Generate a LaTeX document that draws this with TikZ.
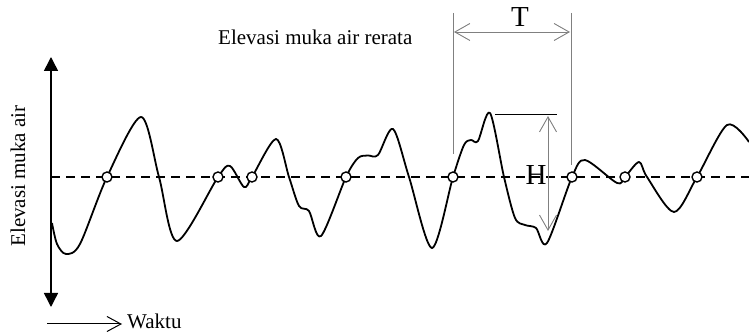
\documentclass[tikz,border=0pt]{standalone}
\usepackage{fontspec}
\setmainfont{Liberation Serif}
\usetikzlibrary{arrows.meta}
\tikzset{
  wave/.style={line width=1.8pt, line join=round},
  meanline/.style={line width=1.5pt, dash pattern=on 9pt off 6pt},
  axisline/.style={line width=1.5pt, -{Triangle[length=14pt,width=14pt]}},
  zc/.style={circle, draw, fill=white, line width=1.4pt, minimum size=10pt, inner sep=0pt},
  dimline/.style={line width=0.9pt, draw=gray},
  dimarrow/.style={line width=0.9pt, draw=gray, {Straight Barb[length=15pt,width=17pt]}-{Straight Barb[length=15pt,width=17pt]}},
  txt/.style={font=\fontsize{21}{25}\selectfont, inner sep=0pt},
  bigtxt/.style={font=\fontsize{29}{34}\selectfont, inner sep=0pt}
}
\begin{document}
\begin{tikzpicture}[x=1pt,y=-1pt]
\useasboundingbox (0,0) rectangle (749,336);
% mean line
\coordinate (mL) at (51,177);
\coordinate (mR) at (749,177);
\draw[meanline] (mL) -- (mR);
% axis
\coordinate (ax0) at (51,177);
\coordinate (axT) at (51,57);
\coordinate (axB) at (51,307);
\draw[axisline] (ax0) -- (axT);
\draw[axisline] (ax0) -- (axB);
% wave
\draw[wave] plot[smooth, tension=0.5] coordinates {
 (52,223) (57,244) (66,254) (80,244) (107,177) (141,117) (159,177) (177,241) (218,177) (230,166) (244,187) (252,177) (276,139) (289,177) (299,206) (309,211) (321,236) (346,177) (358,158) (368,155.5) (378,155) (393,129) (409,177) (432,248) (453,177) (464,145) (471,140) (478,141) (490,113) (504,177) (515,218) (525,225) (536,228) (547,243) (572,177) (585,160) (617,183) (625,177) (639,162) (647,177) (674,212) (697,177) (727,125) (749,142)
};
% zero crossings
\foreach \n/\x in {1/107,2/218,3/252,4/346,5/453,6/572,7/625,8/697}
  \node[zc] (z\n) at (\x,177) {};
% T dimension
\coordinate (tl1) at (453,13);
\coordinate (tl2) at (453,154);
\coordinate (tr1) at (571,13);
\coordinate (tr2) at (571,165);
\draw[dimline] (tl1) -- (tl2);
\draw[dimline] (tr1) -- (tr2);
\coordinate (ta) at (454,32);
\coordinate (tb) at (570,32);
\draw[dimarrow] (ta) -- (tb);
\node[bigtxt, anchor=base] (T) at (520,27) {T};
% H dimension
\coordinate (h1) at (495,114);
\coordinate (h2) at (557,114);
\draw[line width=0.9pt] (h1) -- (h2);
\coordinate (ha) at (548,116);
\coordinate (hb) at (548,231);
\draw[dimarrow] (ha) -- (hb);
\node[bigtxt, anchor=base] (H) at (536,185) {H};
% texts
\node[txt, anchor=base west] (mean) at (218,45) {Elevasi muka air rerata};
\node[txt, anchor=base, rotate=90] (ylab) at (25,176) {Elevasi muka air};
\coordinate (w0) at (47,324);
\coordinate (w1) at (122,324);
\draw[line width=1pt, -{Straight Barb[length=14pt,width=15pt]}] (w0) -- (w1);
\node[txt, anchor=base west] (waktu) at (127,329) {Waktu};
\end{tikzpicture}
\end{document}
